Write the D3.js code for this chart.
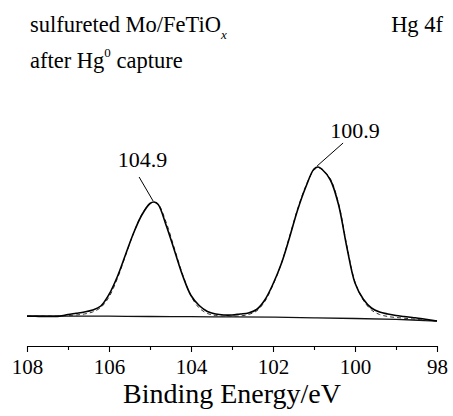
<!DOCTYPE html>
<html>
<head>
<meta charset="utf-8">
<script src="https://cdn.jsdelivr.net/npm/d3@7"></script>
</head>
<body style="margin:0">
<script>
// binding energy grid (eV) for the measured spectrum and the fit envelope
const energies = [108.0,107.8,107.6,107.4,107.2,107.0,106.8,106.6,106.4,106.2,106.0,105.8,105.6,105.4,105.2,105.0,104.9,
  104.8,104.6,104.4,104.2,104.0,103.8,103.6,103.4,103.2,103.0,102.8,102.6,102.4,102.2,102.0,101.8,101.6,101.4,101.2,101.0,100.9,
  100.8,100.6,100.4,100.2,100.0,99.8,99.6,99.4,99.2,99.0,98.8,98.6,98.4,98.2,98.0];
const measured = [13.8,13.7,13.6,13.6,13.9,15.5,16.7,18,20,24,35.5,53,75,97,115,126.5,128,
  125.5,104,79,54,34.5,24.5,18.5,16,15,15,16,17,20.5,30,46,66,92,120,143,161,163,
  160.5,150,125,83,47,31,22,18,16,14.5,13.5,12.5,11.5,10.2,9];
const fitted = [14,14,13.9,13.9,13.9,14.3,15,16,18,22.5,33,51,74,97,115.5,126.5,127.5,
  126,107,81,55,34,22,16.5,14.5,13.8,13.6,14,15.5,19,28.5,45,66,93,121,144,160,162,
  160.5,151,126.5,84.5,48,30,20,15.5,13.5,12.5,11.8,11,10.3,9.6,9];

// Shirley background
const bgEnergies = [108,107,106,105,104,103,102,101,100,99,98];
const background = [14,13.9,13.8,13.5,13.3,13.1,12.8,12.2,11.5,10.6,9];

const majorTicks = [108,106,104,102,100,98];
const minorTicks = [107,105,103,101,99];

const peakLabels = ['104.9', '100.9'];
const peakEnergies = [104.9, 100.9];
const peakHeights = [128, 163];

const width = 453, height = 416;
const serif = "'Liberation Serif'";

const svg = d3.select('body').append('svg')
  .attr('width', width)
  .attr('height', height);

const x = d3.scaleLinear().domain([108, 98]).range([27, 437]);
const y = d3.scaleLinear().domain([0, 200]).range([330, 130]);

const line = d3.line()
  .x(d => x(d[0]))
  .y(d => y(d[1]))
  .curve(d3.curveCatmullRom.alpha(0.5));

svg.append('path')
  .datum(bgEnergies.map((e, i) => [e, background[i]]))
  .attr('d', line)
  .attr('fill', 'none')
  .attr('stroke', '#111')
  .attr('stroke-width', 1.3);

svg.append('path')
  .datum(energies.map((e, i) => [e, fitted[i]]))
  .attr('d', line)
  .attr('fill', 'none')
  .attr('stroke', '#333')
  .attr('stroke-width', 1)
  .attr('stroke-dasharray', '4,3');

svg.append('path')
  .datum(energies.map((e, i) => [e, measured[i]]))
  .attr('d', line)
  .attr('fill', 'none')
  .attr('stroke', '#000')
  .attr('stroke-width', 1.6);

// peak labels with leader lines: [line dx, line dy, text dx, text dy]
const offsets = [[-14, -24, 3.5, -10], [26, -23, 12, -5.5]];
peakLabels.forEach((lab, i) => {
  const px = x(peakEnergies[i]) - 1, py = y(peakHeights[i]) - 1;
  const o = offsets[i];
  svg.append('line')
    .attr('x1', px).attr('y1', py)
    .attr('x2', px + o[0]).attr('y2', py + o[1])
    .attr('stroke', '#000').attr('stroke-width', 1);
  svg.append('text')
    .attr('x', px + o[0] + o[2])
    .attr('y', py + o[1] + o[3])
    .attr('text-anchor', 'middle')
    .attr('font-size', 22)
    .style('font-family', serif)
    .text(lab);
});

// x axis
const axisY = 346;
svg.append('g')
  .attr('transform', `translate(0,${axisY})`)
  .call(d3.axisBottom(x).tickValues(minorTicks).tickSize(4).tickSizeOuter(0).tickFormat(''))
  .call(g => g.select('.domain').remove());

const ax = svg.append('g')
  .attr('transform', `translate(0,${axisY})`)
  .call(d3.axisBottom(x).tickValues(majorTicks).tickSize(6).tickSizeOuter(0).tickPadding(7).tickFormat(d3.format('d')));
ax.selectAll('text')
  .attr('font-size', 21)
  .style('font-family', serif)
  .attr('fill', '#000');
ax.selectAll('line, path').attr('stroke', '#000').attr('stroke-width', 1.1);
svg.selectAll('.tick line').attr('stroke', '#000').attr('stroke-width', 1.1);

svg.append('text')
  .attr('x', 232)
  .attr('y', 403)
  .attr('text-anchor', 'middle')
  .attr('font-size', 28)
  .style('font-family', serif)
  .text('Binding Energy/eV');

// header text
const t1 = svg.append('text').attr('x', 30).attr('y', 32)
  .attr('font-size', 22.5).style('font-family', serif);
t1.append('tspan').text('sulfureted Mo/FeTiO');
t1.append('tspan').attr('font-size', 13).attr('font-style', 'italic').attr('dy', 7).text('x');

const t2 = svg.append('text').attr('x', 30).attr('y', 68)
  .attr('font-size', 22.5).style('font-family', serif);
t2.append('tspan').text('after Hg');
t2.append('tspan').attr('font-size', 13).attr('dy', -11).text('0');
t2.append('tspan').attr('dy', 11).text(' capture');

svg.append('text')
  .attr('x', 443)
  .attr('y', 32)
  .attr('text-anchor', 'end')
  .attr('font-size', 22.5)
  .style('font-family', serif)
  .text('Hg 4f');
</script>
</body>
</html>
